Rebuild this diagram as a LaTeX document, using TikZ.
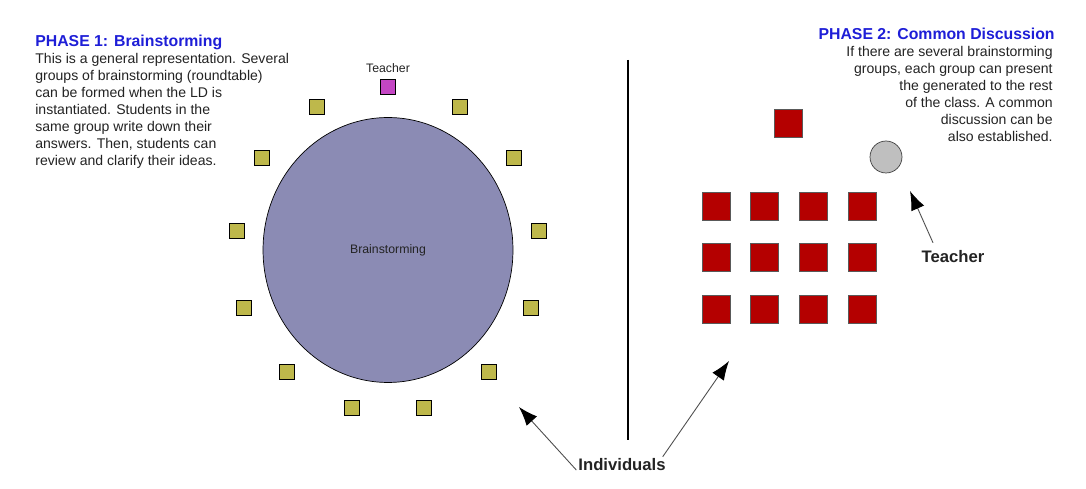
\documentclass[tikz,border=0pt]{standalone}
\usepackage{fontspec}
\setmainfont{Liberation Sans}
\usepackage{xcolor}
\usepackage{tikz}
\usetikzlibrary{arrows.meta,positioning,shapes.geometric}
\definecolor{phaseblue}{RGB}{30,30,215}
\definecolor{tablegray}{RGB}{139,139,180}
\definecolor{seatolive}{RGB}{190,184,75}
\definecolor{teachpink}{RGB}{196,70,196}
\definecolor{deskred}{RGB}{180,0,0}
\definecolor{textgray}{RGB}{35,35,35}
\tikzset{
  phasetext/.style={inner sep=0pt, text=textgray,
    font=\fontsize{8}{9.7}\selectfont},
  phasetitle/.style={inner sep=0pt, text=phaseblue,
    font=\fontsize{9}{10}\selectfont\bfseries},
  roundtable/.style={ellipse, draw=black, fill=tablegray,
    minimum width=50mm, minimum height=53mm, inner sep=0pt,
    font=\fontsize{7}{8}\selectfont, text=textgray},
  seat/.style={draw=black, line width=0.6pt, fill=seatolive,
    minimum size=2.9mm, inner sep=0pt},
  teacherseat/.style={seat, fill=teachpink},
  desk/.style={draw=black!65, fill=deskred, minimum size=5.6mm, inner sep=0pt},
  lectern/.style={circle, draw=black!75, fill=black!25, minimum size=6.4mm, inner sep=0pt},
  callout/.style={font=\fontsize{9.5}{10}\selectfont\bfseries, text=textgray, inner sep=1pt},
  pointer/.style={-{Latex[length=3.8mm,width=2.8mm,color=black]}, draw=black!70, line width=0.5pt}
}

\begin{document}
\begin{tikzpicture}[x=0.02cm, y=-0.02cm, node distance=4.6mm and 4mm]
\useasboundingbox (0,0) rectangle (1086,489);

% phase 1
\node[phasetitle, anchor=base west] (p1title) at (35,47) {PHASE 1: Brainstorming};
\node[phasetext, anchor=north west, align=left] (p1text) at (35,53)
  {This is a general representation. Several\\
   groups of brainstorming (roundtable)\\
   can be formed when the LD is\\
   instantiated. Students in the\\
   same group write down their\\
   answers. Then, students can\\
   review and clarify their ideas.};

\node[roundtable] (table) at (388,250) {Brainstorming};
\node[teacherseat] (teacher) at (388,87) {};
\node[phasetext, font=\fontsize{7}{8}\selectfont, above=1.2mm of teacher] (teacherlbl) {Teacher};

\node[seat] (s1) at (460,107) {};
\node[seat] (s2) at (514,158) {};
\node[seat] (s3) at (539,231) {};
\node[seat] (s4) at (531,308) {};
\node[seat] (s5) at (489,372) {};
\node[seat] (s6) at (424,408) {};
\node[seat] (s7) at (352,408) {};
\node[seat] (s8) at (287,372) {};
\node[seat] (s9) at (244,308) {};
\node[seat] (s10) at (237,231) {};
\node[seat] (s11) at (262,158) {};
\node[seat] (s12) at (317,107) {};

% divider
\coordinate (divtop) at (628,60);
\coordinate (divbot) at (628,440);
\draw[line width=1pt] (divtop) -- (divbot);

% phase 2
\node[phasetitle, anchor=base east] (p2title) at (1055,40) {PHASE 2: Common Discussion};
\node[phasetext, anchor=north east, align=right] (p2text) at (1053,46)
  {If there are several brainstorming\\
   groups, each group can present\\
   the generated to the rest\\
   of the class. A common\\
   discussion can be\\
   also established.};

\node[desk] (front) at (788,123) {};
\node[lectern] (lectern) at (886,157) {};

\node[desk] (d11) at (716,206) {};
\node[desk, right=of d11] (d12) {};
\node[desk, right=of d12] (d13) {};
\node[desk, right=of d13] (d14) {};
\node[desk, below=of d11] (d21) {};
\node[desk, right=of d21] (d22) {};
\node[desk, right=of d22] (d23) {};
\node[desk, right=of d23] (d24) {};
\node[desk, below=of d21] (d31) {};
\node[desk, right=of d31] (d32) {};
\node[desk, right=of d32] (d33) {};
\node[desk, right=of d33] (d34) {};

\node[callout] (teachercall) at (953,257) {Teacher};
\coordinate (teacherhead) at (910,191);
\draw[pointer] ([xshift=-4mm,yshift=1.2mm]teachercall.north) -- (teacherhead);

\node[callout] (indiv) at (622,465) {Individuals};
\coordinate (lefthead) at (519,407);
\coordinate (righthead) at (729,361);
\draw[pointer] ([yshift=-1mm]indiv.west) -- (lefthead);
\draw[pointer] ([xshift=-1mm]indiv.north east) -- (righthead);
\end{tikzpicture}
\end{document}
